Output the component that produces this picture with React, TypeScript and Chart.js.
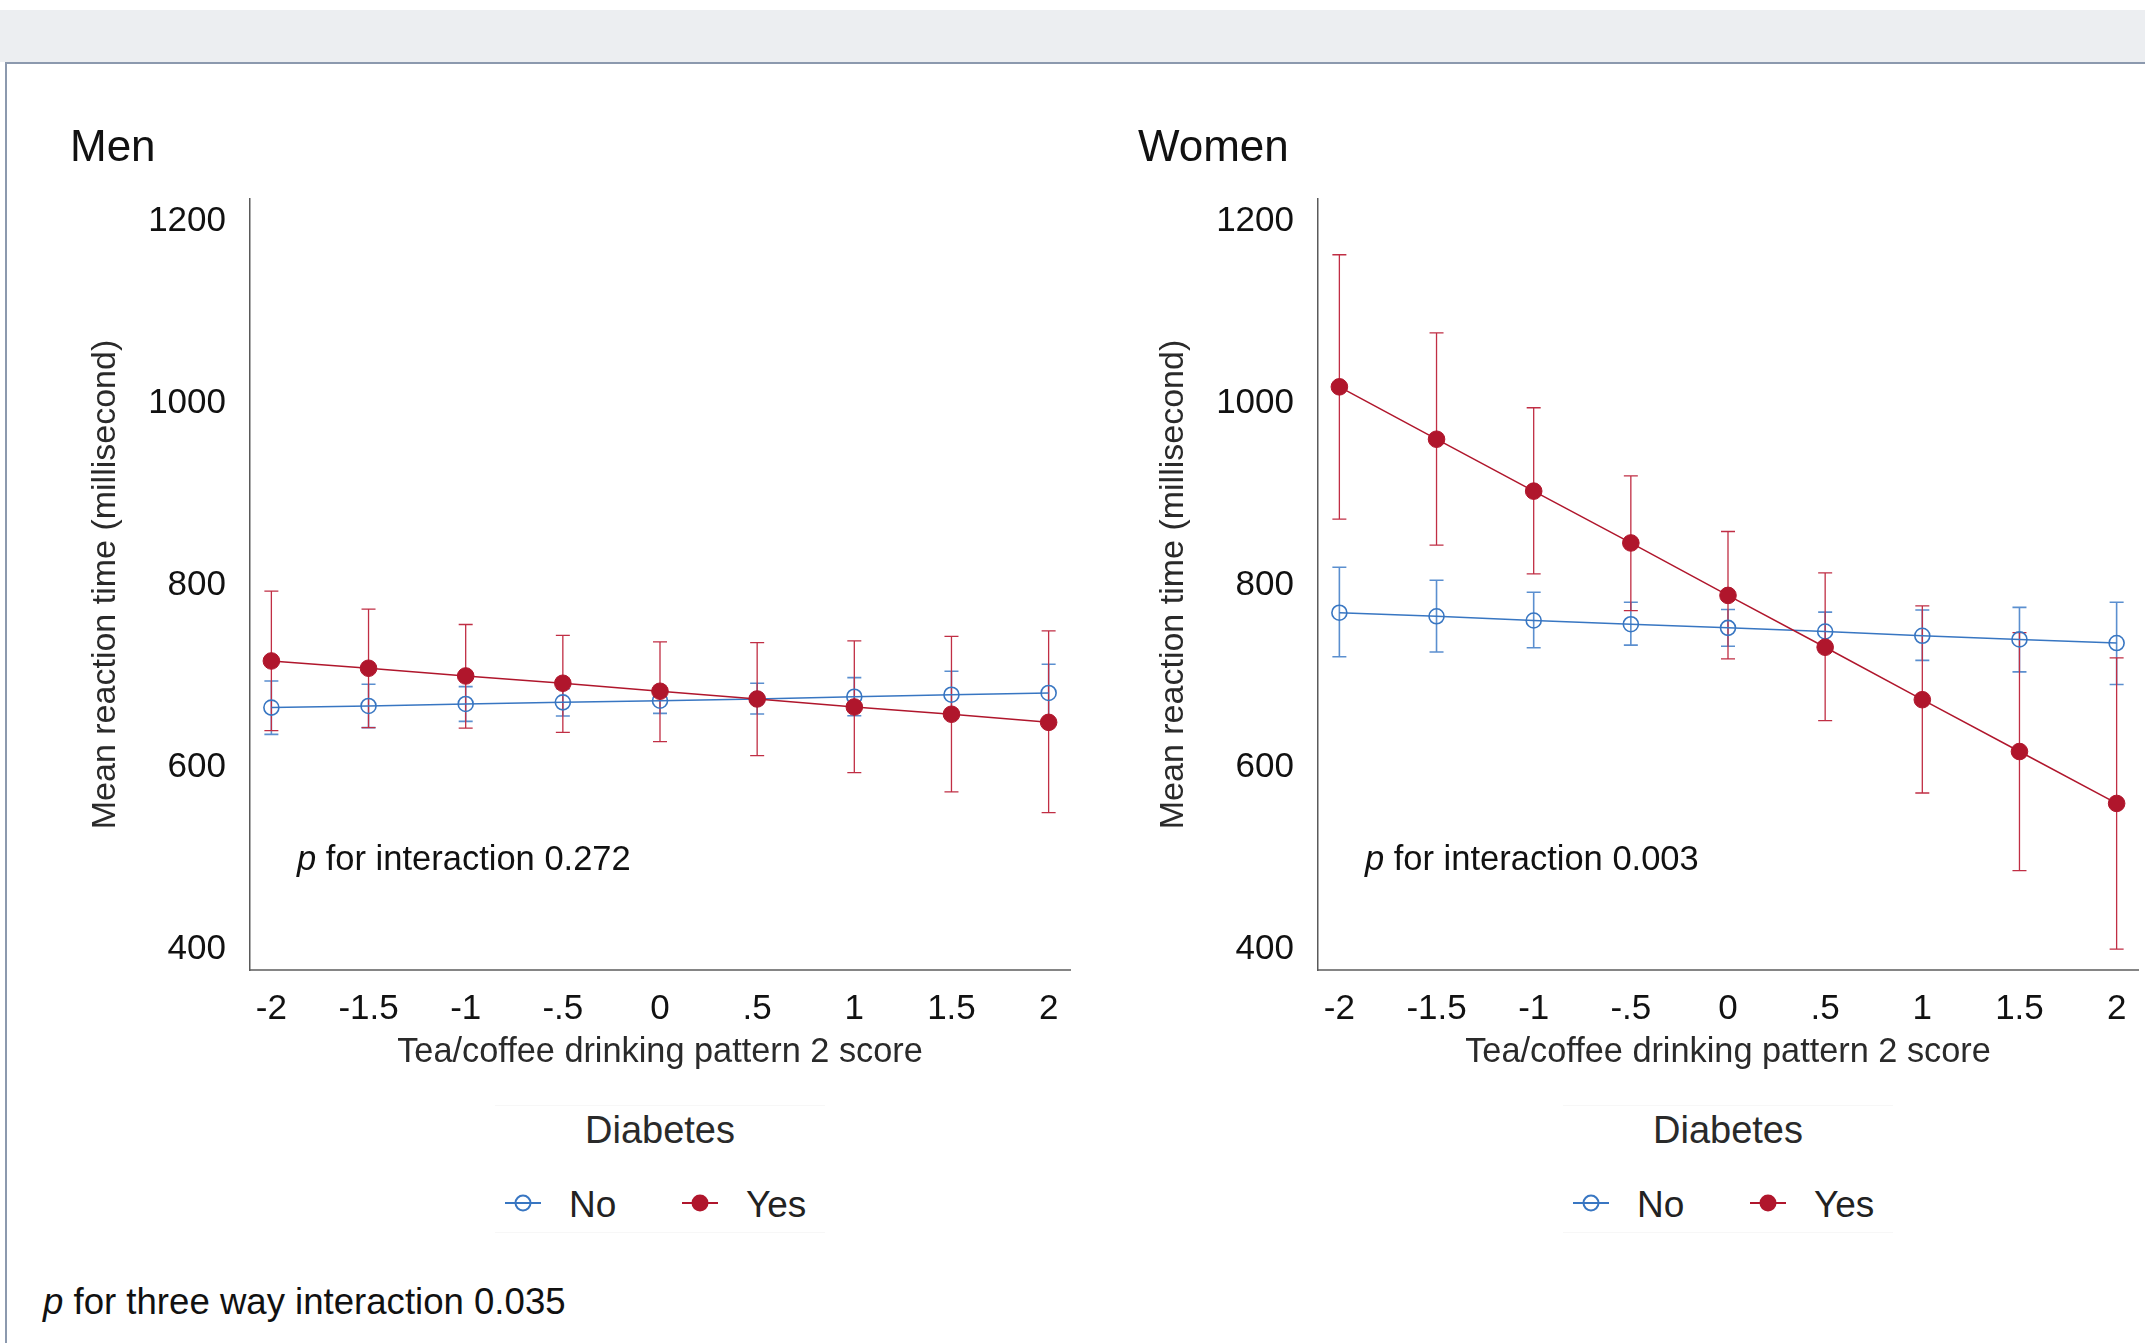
import React, { useEffect, useRef } from 'react';
import { Chart, registerables } from 'chart.js';

Chart.register(...registerables);

// ---------- data ----------
const xValues = [-2, -1.5, -1, -0.5, 0, 0.5, 1, 1.5, 2];
const xTickLabels = ['-2', '-1.5', '-1', '-.5', '0', '.5', '1', '1.5', '2'];
const yTickValues = [400, 600, 800, 1000, 1200];
const seriesNames = ['No', 'Yes'];
const panelTitles = ['Men', 'Women'];
const interactionNotes = ['0.272', '0.003'];
const threeWayNote = '0.035';

const menNoMean = [665.6, 667.4, 669.6, 671.4, 673.2, 675.1, 677.6, 679.8, 681.7];
const menNoLow = [636.2, 643.6, 650.5, 656.4, 659.3, 658.6, 656.7, 654.2, 650.1];
const menNoHigh = [694.9, 691.3, 688.7, 686.4, 687.1, 692.4, 698.6, 705.6, 713.3];
const menYesMean = [716.9, 708.9, 700.4, 692.4, 683.6, 675.1, 666.3, 658.3, 649.4];
const menYesLow = [640.3, 643.5, 643.0, 638.4, 628.1, 612.7, 594.0, 573.0, 550.0];
const menYesHigh = [793.7, 774.0, 757.0, 745.0, 738.0, 737.0, 739.0, 744.0, 750.0];

const womenNoMean = [770.0, 766.0, 761.4, 757.3, 753.3, 749.3, 744.6, 740.6, 736.6];
const womenNoLow = [721.6, 726.8, 731.4, 734.3, 733.1, 727.4, 717.5, 704.9, 691.0];
const womenNoHigh = [820.0, 805.7, 792.5, 781.5, 773.5, 770.6, 772.9, 775.8, 781.5];
const womenYesMean = [1018.4, 960.8, 903.7, 846.7, 789.0, 732.0, 674.3, 617.3, 560.2];
const womenYesLow = [873.0, 844.4, 812.7, 772.3, 719.3, 651.3, 571.7, 486.4, 400.0];
const womenYesHigh = [1163.7, 1077.8, 995.4, 920.4, 859.3, 813.8, 777.5, 748.0, 720.4];

// ---------- styles ----------
const BLUE = '#3876C2';
const BLUE_BAR = '#5B8FCF';
const RED = '#B0162C';
const RED_BAR = '#C02E44';
const SANS = "'Liberation Sans', Arial, Helvetica, sans-serif";

const errorBarPlugin = {
  id: 'errorBars',
  beforeDatasetsDraw(chart: any) {
    const { ctx } = chart;
    const xs = chart.scales.x;
    const ys = chart.scales.y;
    chart.data.datasets.forEach((ds: any) => {
      const lows: number[] = ds.errLow;
      const highs: number[] = ds.errHigh;
      if (!lows || !highs) return;
      ctx.save();
      ctx.strokeStyle = ds.barColor;
      ctx.lineWidth = ds.barWidth;
      const cap = 7;
      ds.data.forEach((pt: any, j: number) => {
        const px = xs.getPixelForValue(pt.x);
        const pl = ys.getPixelForValue(lows[j]);
        const ph = ys.getPixelForValue(highs[j]);
        ctx.beginPath();
        ctx.moveTo(px, pl);
        ctx.lineTo(px, ph);
        ctx.moveTo(px - cap, pl);
        ctx.lineTo(px + cap, pl);
        ctx.moveTo(px - cap, ph);
        ctx.lineTo(px + cap, ph);
        ctx.stroke();
      });
      ctx.restore();
    });
  },
};

function makeConfig(
  noMean: number[], noLow: number[], noHigh: number[],
  yesMean: number[], yesLow: number[], yesHigh: number[]
): any {
  return {
    type: 'line',
    data: {
      datasets: [
        {
          label: seriesNames[0],
          data: xValues.map((x, i) => ({ x, y: noMean[i] })),
          errLow: noLow,
          errHigh: noHigh,
          barColor: BLUE_BAR,
          barWidth: 1.6,
          borderColor: BLUE,
          borderWidth: 1.5,
          pointStyle: 'circle',
          pointRadius: 7.5,
          pointBorderWidth: 1.6,
          pointBackgroundColor: 'rgba(0,0,0,0)',
          pointBorderColor: BLUE,
          order: 2,
        },
        {
          label: seriesNames[1],
          data: xValues.map((x, i) => ({ x, y: yesMean[i] })),
          errLow: yesLow,
          errHigh: yesHigh,
          barColor: RED_BAR,
          barWidth: 1.3,
          borderColor: RED,
          borderWidth: 1.5,
          pointStyle: 'circle',
          pointRadius: 8.3,
          pointBorderWidth: 1,
          pointBackgroundColor: RED,
          pointBorderColor: RED,
          order: 1,
        },
      ],
    },
    options: {
      animation: false,
      responsive: false,
      maintainAspectRatio: false,
      devicePixelRatio: 1,
      layout: { padding: { left: 85, right: 30, top: 60, bottom: 4 } },
      plugins: {
        legend: { display: false },
        tooltip: { enabled: false },
        title: { display: false },
      },
      scales: {
        x: {
          type: 'linear',
          min: -2.11,
          max: 2.11,
          afterBuildTicks: (s: any) => {
            s.ticks = xValues.map((v) => ({ value: v }));
          },
          afterFit: (s: any) => {
            s.height = 103;
          },
          grid: { display: false, drawTicks: false },
          border: { display: true, color: '#858585', width: 2 },
          ticks: {
            autoSkip: false,
            maxRotation: 0,
            minRotation: 0,
            padding: 18,
            color: '#111',
            font: { family: SANS, size: 35 },
            callback: (_v: any, i: number) => xTickLabels[i],
          },
          title: {
            display: true,
            text: 'Tea/coffee drinking pattern 2 score',
            color: '#2a2a2a',
            font: { family: SANS, size: 34.3 },
            padding: { top: 0, bottom: 0 },
          },
        },
        y: {
          type: 'linear',
          min: 377,
          max: 1225,
          afterBuildTicks: (s: any) => {
            s.ticks = yTickValues.map((v) => ({ value: v }));
          },
          afterFit: (s: any) => {
            s.width = 165;
          },
          grid: { display: false, drawTicks: false },
          border: { display: true, color: '#5a5a5a', width: 1.5 },
          ticks: {
            padding: 24,
            color: '#111',
            font: { family: SANS, size: 35 },
            callback: (v: any) => String(v),
          },
          title: {
            display: true,
            text: 'Mean reaction time (millisecond)',
            color: '#2a2a2a',
            font: { family: SANS, size: 34 },
            padding: { top: 0, bottom: 0 },
          },
        },
      },
    },
    plugins: [errorBarPlugin],
  };
}

function PanelChart(props: { left: number; config: any }) {
  const ref = useRef<HTMLCanvasElement | null>(null);
  useEffect(() => {
    if (!ref.current) return;
    const chart = new Chart(ref.current, props.config);
    return () => chart.destroy();
  }, []);
  return (
    <canvas
      ref={ref}
      width={1100}
      height={938}
      style={{ position: 'absolute', left: props.left, top: 139, width: 1100, height: 938 }}
    />
  );
}

function LegendMarker(props: { cx: number; cy: number; filled: boolean; color: string }) {
  const w = 36;
  const h = 22;
  return (
    <svg
      width={w}
      height={h}
      style={{ position: 'absolute', left: props.cx - w / 2, top: props.cy - h / 2 }}
    >
      <line x1={0} y1={h / 2} x2={w} y2={h / 2} stroke={props.color} strokeWidth={2} />
      {props.filled ? (
        <circle cx={w / 2} cy={h / 2} r={8.5} fill={props.color} />
      ) : (
        <circle cx={w / 2} cy={h / 2} r={7.5} fill="none" stroke={props.color} strokeWidth={2} />
      )}
    </svg>
  );
}

function textStyle(left: number, cy: number, size: number, color: string, center = false): React.CSSProperties {
  return {
    position: 'absolute',
    left,
    top: cy,
    transform: center ? 'translate(-50%, -50%)' : 'translateY(-50%)',
    fontFamily: SANS,
    fontSize: size,
    lineHeight: 1,
    color,
    whiteSpace: 'nowrap',
  };
}

function PanelDecor(props: { dx: number; title: string; note: string }) {
  const { dx } = props;
  return (
    <>
      <div style={textStyle(70 + dx, 146, 44, '#111')}>{props.title}</div>
      <div style={textStyle(297 + dx, 858, 34.5, '#111')}>
        <i>p</i> for interaction {props.note}
      </div>
      <div style={{ position: 'absolute', left: 495 + dx, top: 1105, width: 330, height: 1, background: '#f7f7f7' }} />
      <div style={{ position: 'absolute', left: 495 + dx, top: 1232, width: 330, height: 1, background: '#f7f7f7' }} />
      <div style={textStyle(660 + dx, 1130, 38, '#2a2a2a', true)}>Diabetes</div>
      <LegendMarker cx={523 + dx} cy={1203} filled={false} color={BLUE} />
      <div style={textStyle(569 + dx, 1204, 37, '#222')}>{seriesNames[0]}</div>
      <LegendMarker cx={700 + dx} cy={1203} filled={true} color={RED} />
      <div style={textStyle(746 + dx, 1204, 37, '#222')}>{seriesNames[1]}</div>
    </>
  );
}

export default function App() {
  useEffect(() => {
    document.body.style.margin = '0';
    document.body.style.overflow = 'hidden';
  }, []);

  const menConfig = makeConfig(menNoMean, menNoLow, menNoHigh, menYesMean, menYesLow, menYesHigh);
  const womenConfig = makeConfig(womenNoMean, womenNoLow, womenNoHigh, womenYesMean, womenYesLow, womenYesHigh);

  return (
    <div
      style={{
        position: 'absolute',
        left: 0,
        top: 0,
        width: 2145,
        height: 1343,
        overflow: 'hidden',
        background: '#ffffff',
      }}
    >
      <div style={{ position: 'absolute', left: 0, top: 10, width: 2145, height: 52, background: '#ECEEF1' }} />
      <div
        style={{
          position: 'absolute',
          left: 5,
          top: 62,
          width: 2200,
          height: 1400,
          borderLeft: '2px solid #8C99AE',
          borderTop: '2px solid #8C99AE',
          boxSizing: 'border-box',
        }}
      />
      <PanelChart left={0} config={menConfig} />
      <PanelChart left={1068} config={womenConfig} />
      <PanelDecor dx={0} title={panelTitles[0]} note={interactionNotes[0]} />
      <PanelDecor dx={1068} title={panelTitles[1]} note={interactionNotes[1]} />
      <div style={textStyle(43, 1302, 36.6, '#111')}>
        <i>p</i> for three way interaction {threeWayNote}
      </div>
    </div>
  );
}
